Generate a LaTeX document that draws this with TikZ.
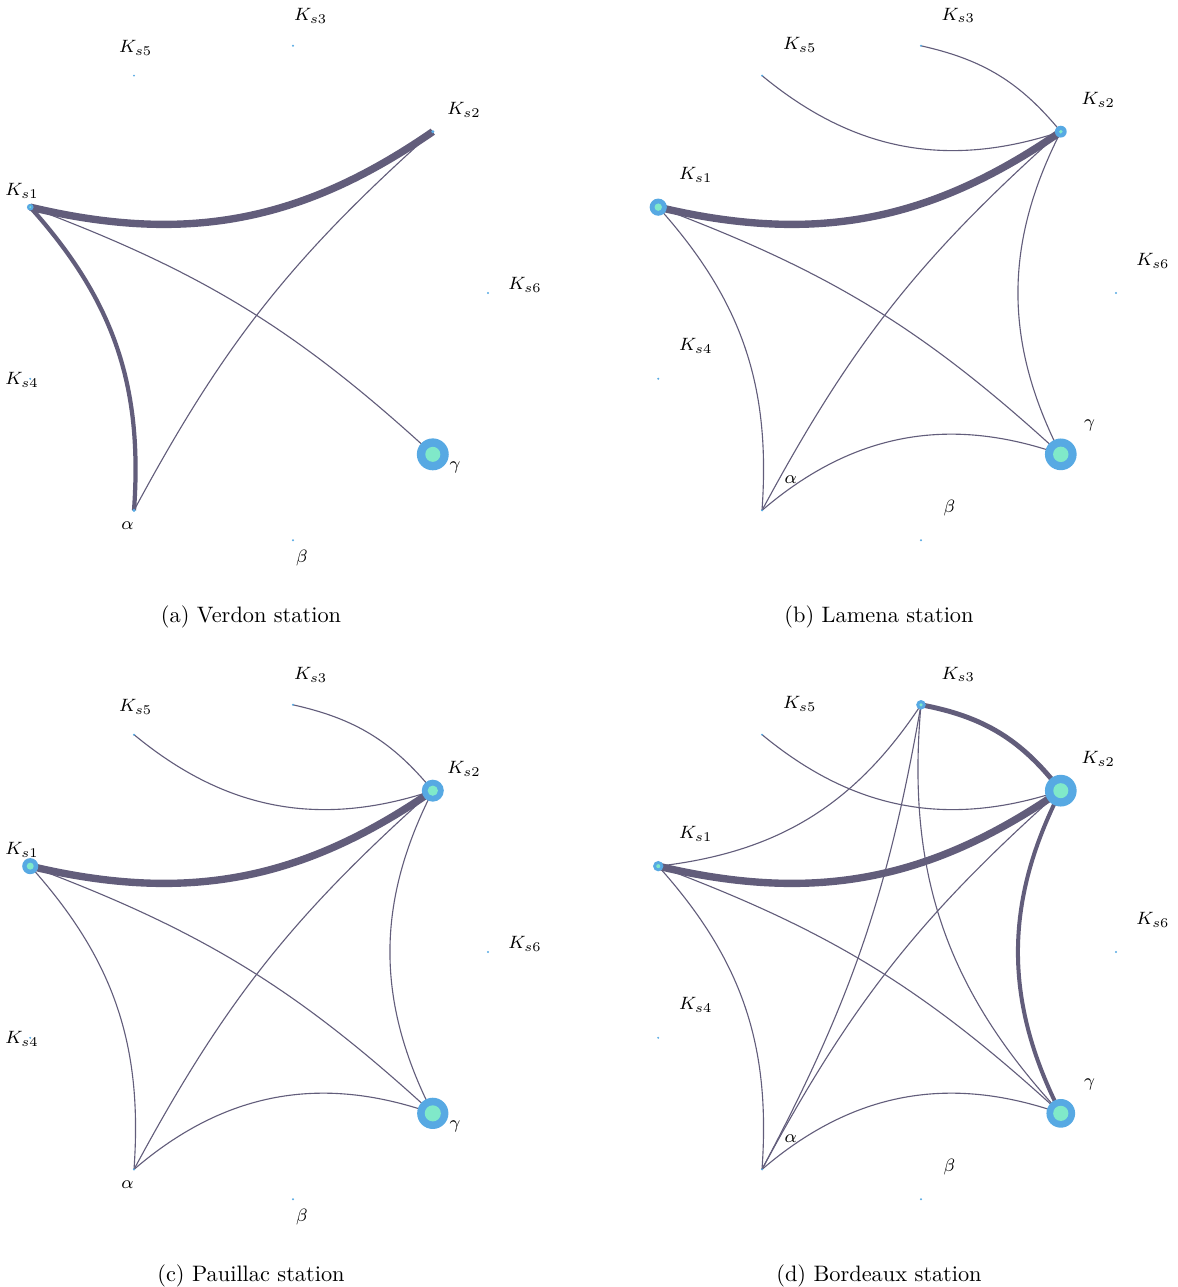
\documentclass[tikz,border=0pt]{standalone}
\usetikzlibrary{backgrounds}
\definecolor{edge}{HTML}{625D7B}
\definecolor{halo}{HTML}{57A9E3}
\definecolor{core}{HTML}{80E9C9}
\tikzset{
  stn/.style 2 args={circle,fill=halo,inner sep=0pt,minimum size=#1,
    path picture={\fill[core] (path picture bounding box.center) circle[radius=#2];}},
  conn/.style={draw=edge,line width=#1},
  conn/.default=0.5pt,
  lbl/.style={text=black,font=\fontsize{8.4}{10}\selectfont,inner sep=0pt},
  capt/.style={font=\normalsize,inner sep=0pt},
}
% label places: panels (a),(c) and (b),(d)
\def\labsA{ks3/K_{s3}/310.7/16, ks5/K_{s5}/135.7/47.8, ks2/K_{s2}/464/110, ks1/K_{s1}/22/191, ks6/K_{s6}/525/285, ks4/K_{s4}/22/380, ga/\gamma/455/467, al/\alpha/127.5/526, be/\beta/302/558}
\def\labsB{ks3/K_{s3}/330.3/15.3, ks5/K_{s5}/171.8/45, ks2/K_{s2}/470.3/100, ks1/K_{s1}/67.8/175, ks6/K_{s6}/524.9/261, ks4/K_{s4}/67.8/346, ga/\gamma/461.5/425.5, al/\alpha/162.6/480, be/\beta/321.4/508}
\begin{document}
\begin{tikzpicture}[x=0.4476pt,y=-0.4476pt]
  \useasboundingbox (0,0) rectangle (1178,1287);
  % (a) Verdon
  \begin{scope}[name prefix=a-]
    \foreach \nm/\ang/\ro/\ri in {ks6/0/1pt/0pt, ks2/40/1.5pt/0pt, ks3/80/1pt/0pt, ks5/120/1pt/0pt, ks1/160/3pt/0.45pt, ks4/200/1pt/0pt, al/240/1.5pt/0pt, be/280/1pt/0pt, ga/320/14.3pt/3.36pt}
      \node[stn={\ro}{\ri}] (\nm) at ({252+236*cos(\ang)},{293-251*sin(\ang)}) {};
    \foreach \nm/\txt/\x/\y in \labsA
      \node[lbl] (t-\nm) at (\x,\y) {$\txt$};
    \begin{scope}[on background layer]
      \draw[conn=3.3pt] (ks2.center) to[bend left=24] (ks1.center);
      \draw[conn=1.9pt] (ks1.center) to[bend left=23] (al.center);
      \draw[conn] (ks1.center) to[bend left=11] (ga.center);
      \draw[conn] (al.center) to[bend left=10] (ks2.center);
    \end{scope}
    \node[capt] (capt) at (251,617) {(a) Verdon station};
  \end{scope}
  % (b) Lamena
  \begin{scope}[shift={(628,0)},name prefix=b-]
    \foreach \nm/\ang/\ro/\ri in {ks6/0/1pt/0pt, ks2/40/5.3pt/0.85pt, ks3/80/1pt/0pt, ks5/120/1pt/0pt, ks1/160/7.7pt/1.66pt, ks4/200/1pt/0pt, al/240/1pt/0pt, be/280/1pt/0pt, ga/320/14.2pt/3.45pt}
      \node[stn={\ro}{\ri}] (\nm) at ({252+236*cos(\ang)},{293-251*sin(\ang)}) {};
    \foreach \nm/\txt/\x/\y in \labsB
      \node[lbl] (t-\nm) at (\x,\y) {$\txt$};
    \begin{scope}[on background layer]
      \draw[conn=3.3pt] (ks2.center) to[bend left=24] (ks1.center);
      \draw[conn] (ks2.center) to[bend left=29] (ks5.center);
      \draw[conn] (ks2.center) to[bend right=19] (ks3.center);
      \draw[conn] (ga.center) to[bend left=27] (ks2.center);
      \draw[conn] (al.center) to[bend left=10] (ks2.center);
      \draw[conn] (ks1.center) to[bend left=11] (ga.center);
      \draw[conn] (ks1.center) to[bend left=23] (al.center);
      \draw[conn] (al.center) to[bend left=30] (ga.center);
    \end{scope}
    \node[capt] (capt) at (251,617) {(b) Lamena station};
  \end{scope}
  % (c) Pauillac
  \begin{scope}[shift={(0,659)},name prefix=c-]
    \foreach \nm/\ang/\ro/\ri in {ks6/0/1pt/0pt, ks2/40/9.85pt/2.3pt, ks3/80/1pt/0pt, ks5/120/1pt/0pt, ks1/160/7.2pt/1.57pt, ks4/200/1pt/0pt, al/240/1pt/0pt, be/280/1pt/0pt, ga/320/14pt/3.6pt}
      \node[stn={\ro}{\ri}] (\nm) at ({252+236*cos(\ang)},{293-251*sin(\ang)}) {};
    \foreach \nm/\txt/\x/\y in \labsA
      \node[lbl] (t-\nm) at (\x,\y) {$\txt$};
    \begin{scope}[on background layer]
      \draw[conn=3.3pt] (ks2.center) to[bend left=24] (ks1.center);
      \draw[conn] (ks2.center) to[bend left=29] (ks5.center);
      \draw[conn] (ks2.center) to[bend right=19] (ks3.center);
      \draw[conn] (ga.center) to[bend left=27] (ks2.center);
      \draw[conn] (al.center) to[bend left=10] (ks2.center);
      \draw[conn] (ks1.center) to[bend left=11] (ga.center);
      \draw[conn] (ks1.center) to[bend left=23] (al.center);
      \draw[conn] (al.center) to[bend left=30] (ga.center);
    \end{scope}
    \node[capt] (capt) at (251,617) {(c) Pauillac station};
  \end{scope}
  % (d) Bordeaux
  \begin{scope}[shift={(628,659)},name prefix=d-]
    \foreach \nm/\ang/\ro/\ri in {ks6/0/1pt/0pt, ks2/40/14.2pt/3.36pt, ks3/80/4.3pt/0.8pt, ks5/120/1pt/0pt, ks1/160/4.65pt/0.9pt, ks4/200/1pt/0pt, al/240/1pt/0pt, be/280/1pt/0pt, ga/320/12.85pt/3.4pt}
      \node[stn={\ro}{\ri}] (\nm) at ({252+236*cos(\ang)},{293-251*sin(\ang)}) {};
    \foreach \nm/\txt/\x/\y in \labsB
      \node[lbl] (t-\nm) at (\x,\y) {$\txt$};
    \begin{scope}[on background layer]
      \draw[conn=3.3pt] (ks2.center) to[bend left=24] (ks1.center);
      \draw[conn=2.2pt] (ks2.center) to[bend right=21] (ks3.center);
      \draw[conn=1.8pt] (ga.center) to[bend left=27] (ks2.center);
      \draw[conn] (ks2.center) to[bend left=29] (ks5.center);
      \draw[conn] (ks3.center) to[bend left=25] (ks1.center);
      \draw[conn] (ks3.center) to[bend left=9] (al.center);
      \draw[conn] (ga.center) to[bend left=24] (ks3.center);
      \draw[conn] (al.center) to[bend left=10] (ks2.center);
      \draw[conn] (ks1.center) to[bend left=11] (ga.center);
      \draw[conn] (ks1.center) to[bend left=23] (al.center);
      \draw[conn] (al.center) to[bend left=30] (ga.center);
    \end{scope}
    \node[capt] (capt) at (251,617) {(d) Bordeaux station};
  \end{scope}
\end{tikzpicture}
\end{document}
